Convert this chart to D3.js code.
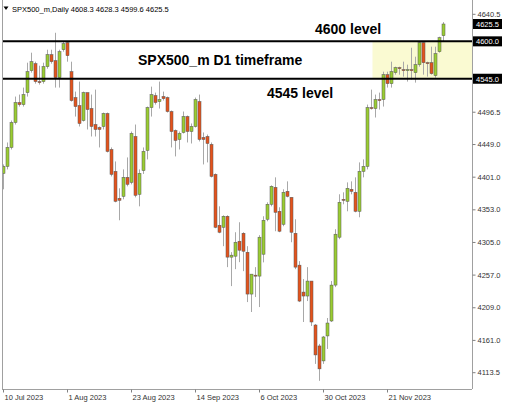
<!DOCTYPE html>
<html>
<head>
<meta charset="utf-8">
<script src="https://cdn.jsdelivr.net/npm/d3@7"></script>
<style>
  html, body { margin: 0; padding: 0; background: #ffffff; }
  svg { display: block; }
</style>
</head>
<body>
<svg id="chart" width="517" height="409"></svg>
<script>
// Daily OHLC of SPX500_m, one entry per trading day starting 10 Jul 2023
const opens = [
  4405.8, 4416.1, 4444.0, 4480.6, 4510.0, 4507.0, 4524.6, 4556.9, 4567.2, 4540.8,
  4540.8, 4562.8, 4580.4, 4571.6, 4546.6, 4587.7, 4598.0, 4555.4, 4517.3, 4505.6,
  4483.6, 4524.6, 4501.2, 4477.7, 4473.3, 4474.8, 4493.9, 4441.0, 4408.8, 4369.2,
  4372.1, 4400.0, 4392.6, 4460.1, 4375.1, 4410.0, 4439.6, 4502.6, 4520.2, 4511.4,
  4518.8, 4517.3, 4496.8, 4468.9, 4455.7, 4466.0, 4489.4, 4467.4, 4474.8, 4511.4,
  4458.6, 4460.1, 4448.4, 4404.4, 4329.6, 4326.6, 4342.8, 4282.7, 4284.1, 4306.1,
  4317.8, 4289.9, 4228.4, 4256.2, 4254.8, 4287.0, 4338.4, 4360.4, 4385.3, 4350.1,
  4331.0, 4379.5, 4370.6, 4317.8, 4270.9, 4231.3, 4225.5, 4247.5, 4182.9, 4152.1,
  4130.1, 4166.8, 4188.8, 4241.6, 4312.0, 4367.7, 4364.8, 4382.4, 4378.0, 4350.1,
  4408.8, 4416.1, 4502.6, 4501.2, 4514.4, 4514.4, 4551.0, 4537.8, 4554.0, 4561.3,
  4558.4, 4556.9, 4558.4, 4553.9, 4565.7, 4598.0, 4568.6, 4568.6, 4549.6, 4584.8,
  4608.3
];
const highs = [
  4419.0, 4451.3, 4483.6, 4518.8, 4521.7, 4532.0, 4568.6, 4583.3, 4570.1, 4564.2,
  4568.6, 4587.7, 4587.7, 4612.6, 4587.7, 4599.4, 4599.4, 4570.1, 4526.1, 4540.8,
  4526.1, 4524.6, 4521.7, 4529.0, 4474.8, 4495.3, 4495.3, 4444.0, 4423.4, 4383.9,
  4411.7, 4429.3, 4467.4, 4477.7, 4411.7, 4444.0, 4504.1, 4533.4, 4524.6, 4540.8,
  4526.1, 4518.8, 4498.3, 4470.4, 4467.4, 4496.8, 4490.9, 4479.2, 4517.3, 4521.7,
  4466.0, 4463.0, 4451.3, 4405.8, 4357.4, 4344.2, 4344.2, 4290.0, 4319.3, 4334.0,
  4319.3, 4298.8, 4257.7, 4268.0, 4315.0, 4342.8, 4363.3, 4388.3, 4400.0, 4356.0,
  4382.4, 4394.1, 4370.6, 4338.4, 4276.8, 4250.4, 4268.0, 4247.5, 4184.4, 4155.1,
  4166.8, 4193.2, 4247.5, 4323.7, 4375.1, 4378.0, 4392.6, 4394.1, 4400.0, 4422.0,
  4426.4, 4507.0, 4529.0, 4521.7, 4524.6, 4555.4, 4555.4, 4570.1, 4562.8, 4562.8,
  4570.1, 4565.7, 4590.6, 4577.4, 4599.4, 4599.4, 4570.1, 4592.1, 4592.1, 4606.8,
  4628.3
];
const lows = [
  4382.4, 4411.7, 4441.0, 4477.7, 4504.1, 4504.1, 4518.8, 4554.0, 4537.8, 4536.4,
  4537.8, 4559.8, 4567.2, 4532.0, 4532.0, 4584.8, 4570.1, 4511.4, 4489.4, 4474.8,
  4482.1, 4470.4, 4460.1, 4460.1, 4444.0, 4470.4, 4436.6, 4401.4, 4363.3, 4336.9,
  4367.7, 4386.8, 4389.7, 4370.6, 4357.4, 4405.0, 4426.4, 4489.4, 4507.0, 4501.2,
  4512.9, 4495.3, 4444.0, 4430.8, 4441.0, 4464.5, 4451.3, 4449.8, 4473.3, 4452.8,
  4419.0, 4422.0, 4399.9, 4325.2, 4317.8, 4298.8, 4268.0, 4240.1, 4265.0, 4275.3,
  4262.1, 4216.6, 4202.0, 4224.0, 4209.3, 4275.0, 4335.4, 4357.4, 4320.8, 4319.3,
  4328.1, 4370.6, 4304.6, 4265.0, 4216.6, 4187.3, 4218.1, 4181.4, 4125.7, 4100.8,
  4125.7, 4147.7, 4187.3, 4238.6, 4309.0, 4360.4, 4350.1, 4375.1, 4348.6, 4341.3,
  4400.0, 4411.7, 4499.7, 4488.0, 4499.7, 4504.1, 4532.0, 4532.0, 4551.0, 4551.0,
  4548.1, 4540.8, 4543.7, 4539.3, 4562.8, 4551.0, 4548.1, 4551.0, 4546.6, 4583.3,
  4599.6
];
const closes = [
  4416.1, 4444.0, 4480.6, 4510.0, 4507.0, 4521.7, 4555.4, 4570.1, 4540.8, 4539.3,
  4562.8, 4580.4, 4570.1, 4546.6, 4584.8, 4596.5, 4578.9, 4512.9, 4504.1, 4479.2,
  4524.6, 4499.7, 4474.8, 4470.4, 4470.4, 4493.9, 4438.1, 4404.4, 4364.8, 4366.2,
  4400.0, 4389.7, 4464.5, 4373.6, 4405.8, 4438.1, 4502.6, 4521.7, 4510.0, 4514.4,
  4515.8, 4496.8, 4467.4, 4454.3, 4464.5, 4489.4, 4467.4, 4474.8, 4514.4, 4455.7,
  4455.7, 4449.8, 4401.4, 4326.6, 4319.3, 4342.8, 4282.7, 4285.6, 4304.6, 4292.9,
  4291.4, 4228.4, 4257.7, 4254.8, 4312.0, 4336.9, 4360.4, 4386.8, 4348.6, 4320.8,
  4378.0, 4372.1, 4319.3, 4268.0, 4218.1, 4225.5, 4247.5, 4187.3, 4138.9, 4118.4,
  4165.3, 4185.8, 4241.6, 4316.4, 4363.3, 4366.2, 4383.9, 4379.5, 4350.1, 4408.8,
  4416.1, 4502.6, 4501.2, 4514.4, 4512.9, 4551.0, 4537.8, 4555.4, 4561.3, 4559.8,
  4556.9, 4558.4, 4556.9, 4565.7, 4598.0, 4568.6, 4567.2, 4552.5, 4581.9, 4605.3,
  4625.5
];

const priceTicks = [4640.5, 4496.5, 4449.0, 4401.0, 4353.0, 4305.0, 4257.0, 4209.0, 4161.0, 4113.5];
const levelPrices = [4600.0, 4545.0];
const levelNames = ["4600 level", "4545 level"];
const titleText = "SPX500_m D1 timeframe";
const symbolName = "SPX500_m,Daily";
const firstSession = new Date(2023, 6, 10);
const zoneStart = new Date(2023, 10, 15);
const dateTickEvery = 16;

// Trading calendar: weekdays from the first session on
const days = d3.timeDay.range(firstSession, d3.timeDay.offset(firstSession, 400))
  .filter(d => d.getDay() !== 0 && d.getDay() !== 6)
  .slice(0, closes.length);
const bars = days.map((d, i) => ({ date: d, o: opens[i], h: highs[i], l: lows[i], c: closes[i] }));
const last = bars[bars.length - 1];

const W = 517, H = 409;
const plotLeft = 2, plotRight = 472, plotTop = 0, plotBottom = 389;

const svg = d3.select("#chart");
const fmtDay = d3.timeFormat("%Y-%m-%d");

const x = d3.scalePoint()
  .domain(days.map(fmtDay))
  .range([3, 3 + 4 * (days.length - 1)]);
const y = d3.scaleLinear()
  .domain([4113.5, 4640.5])
  .range([372.2, 13.8]);

const xd = d => x(fmtDay(d));

// plot background
svg.append("rect").attr("x", 0).attr("y", 0).attr("width", W).attr("height", H).attr("fill", "#ffffff");

const plot = svg.append("g");
plot.append("clipPath").attr("id", "clip")
  .append("rect").attr("x", plotLeft).attr("y", plotTop)
  .attr("width", plotRight - plotLeft).attr("height", plotBottom - plotTop);
const inner = plot.append("g").attr("clip-path", "url(#clip)");

// consolidation zone between the two levels
inner.append("rect")
  .attr("x", xd(zoneStart) + 1.5)
  .attr("y", y(levelPrices[0]))
  .attr("width", plotRight - (xd(zoneStart) + 1.5))
  .attr("height", y(levelPrices[1]) - y(levelPrices[0]))
  .attr("fill", "#fafad2");

// candles
const candle = inner.append("g").selectAll("g").data(bars).join("g");
candle.append("line")
  .attr("x1", d => Math.round(xd(d.date)) + 0.5)
  .attr("x2", d => Math.round(xd(d.date)) + 0.5)
  .attr("y1", d => y(d.h))
  .attr("y2", d => y(d.l))
  .attr("stroke", "#a8a8a8")
  .attr("stroke-width", 1);
candle.append("rect")
  .attr("x", d => Math.round(xd(d.date)) - 1)
  .attr("y", d => y(Math.max(d.o, d.c)))
  .attr("width", 3)
  .attr("height", d => Math.max(1, Math.abs(y(d.o) - y(d.c))))
  .attr("fill", d => d.c >= d.o ? "#9acd32" : "#e4531c")
  .attr("stroke", "#555555")
  .attr("stroke-width", 0.5);

// horizontal levels
inner.append("g").selectAll("line").data(levelPrices).join("line")
  .attr("x1", plotLeft).attr("x2", plotRight)
  .attr("y1", d => y(d)).attr("y2", d => y(d))
  .attr("stroke", "#000000").attr("stroke-width", 2);

// annotations
const labelFont = "'Liberation Sans', Arial, sans-serif";
inner.append("text")
  .attr("x", 315).attr("y", y(levelPrices[0]) - 7)
  .attr("font-family", labelFont).attr("font-size", 14).attr("font-weight", "bold")
  .attr("fill", "#000").text(levelNames[0]);
inner.append("text")
  .attr("x", 138).attr("y", (y(levelPrices[0]) + y(levelPrices[1])) / 2 + 5)
  .attr("font-family", labelFont).attr("font-size", 14).attr("font-weight", "bold")
  .attr("fill", "#000").text(titleText);
inner.append("text")
  .attr("x", 267).attr("y", y(levelPrices[1]) + 19)
  .attr("font-family", labelFont).attr("font-size", 14).attr("font-weight", "bold")
  .attr("fill", "#000").text(levelNames[1]);

// frame
svg.append("line").attr("x1", plotLeft + 0.5).attr("x2", plotLeft + 0.5)
  .attr("y1", plotTop).attr("y2", plotBottom).attr("stroke", "#a0a0a0");

// price axis
const axisFont = "'Liberation Sans', Arial, sans-serif";
const yAxis = d3.axisRight(y).tickValues(priceTicks).tickSize(3).tickPadding(2)
  .tickFormat(d3.format(".1f"));
const gy = svg.append("g").attr("transform", `translate(${plotRight + 0.5},0)`).call(yAxis);
gy.select(".domain").attr("d", `M0,${plotTop}V${plotBottom}`).attr("stroke", "#a0a0a0");
gy.selectAll(".tick line").attr("stroke", "#808080");
gy.selectAll(".tick text").attr("font-family", axisFont).attr("font-size", 7.5).attr("fill", "#333");

// time axis
const tickDays = days.filter((d, i) => i % dateTickEvery === 0).map(fmtDay);
const xAxis = d3.axisBottom(x).tickValues(tickDays).tickSize(3).tickPadding(2)
  .tickFormat(s => d3.timeFormat("%-d %b %Y")(d3.timeParse("%Y-%m-%d")(s)));
const gx = svg.append("g").attr("transform", `translate(0,${plotBottom + 0.5})`).call(xAxis);
gx.select(".domain").attr("d", `M${plotLeft},0H${plotRight}`).attr("stroke", "#a0a0a0");
gx.selectAll(".tick line").attr("stroke", "#808080");
gx.selectAll(".tick text").attr("text-anchor", "start").attr("x", 1)
  .attr("font-family", axisFont).attr("font-size", 7.5).attr("fill", "#333");

// price tags on the axis: last close and both levels
const tags = [last.c, ...levelPrices];
const tag = svg.append("g").selectAll("g").data(tags).join("g")
  .attr("transform", d => `translate(${plotRight + 1},${y(d)})`);
tag.append("rect").attr("x", 0).attr("y", -5).attr("width", 29).attr("height", 10).attr("fill", "#000");
tag.append("text").attr("x", 3).attr("y", 3)
  .attr("font-family", axisFont).attr("font-size", 7.5).attr("fill", "#fff")
  .text(d => d3.format(".1f")(d));

// header: symbol and last bar quote
svg.append("path").attr("d", "M3.5,6.5H8.5L6,10Z").attr("fill", "#000");
svg.append("text").attr("x", 12).attr("y", 12)
  .attr("font-family", axisFont).attr("font-size", 7.5).attr("fill", "#000")
  .text(`${symbolName}  ${[last.o, last.h, last.l, last.c].map(d3.format(".1f")).join(" ")}`);
</script>
</body>
</html>
